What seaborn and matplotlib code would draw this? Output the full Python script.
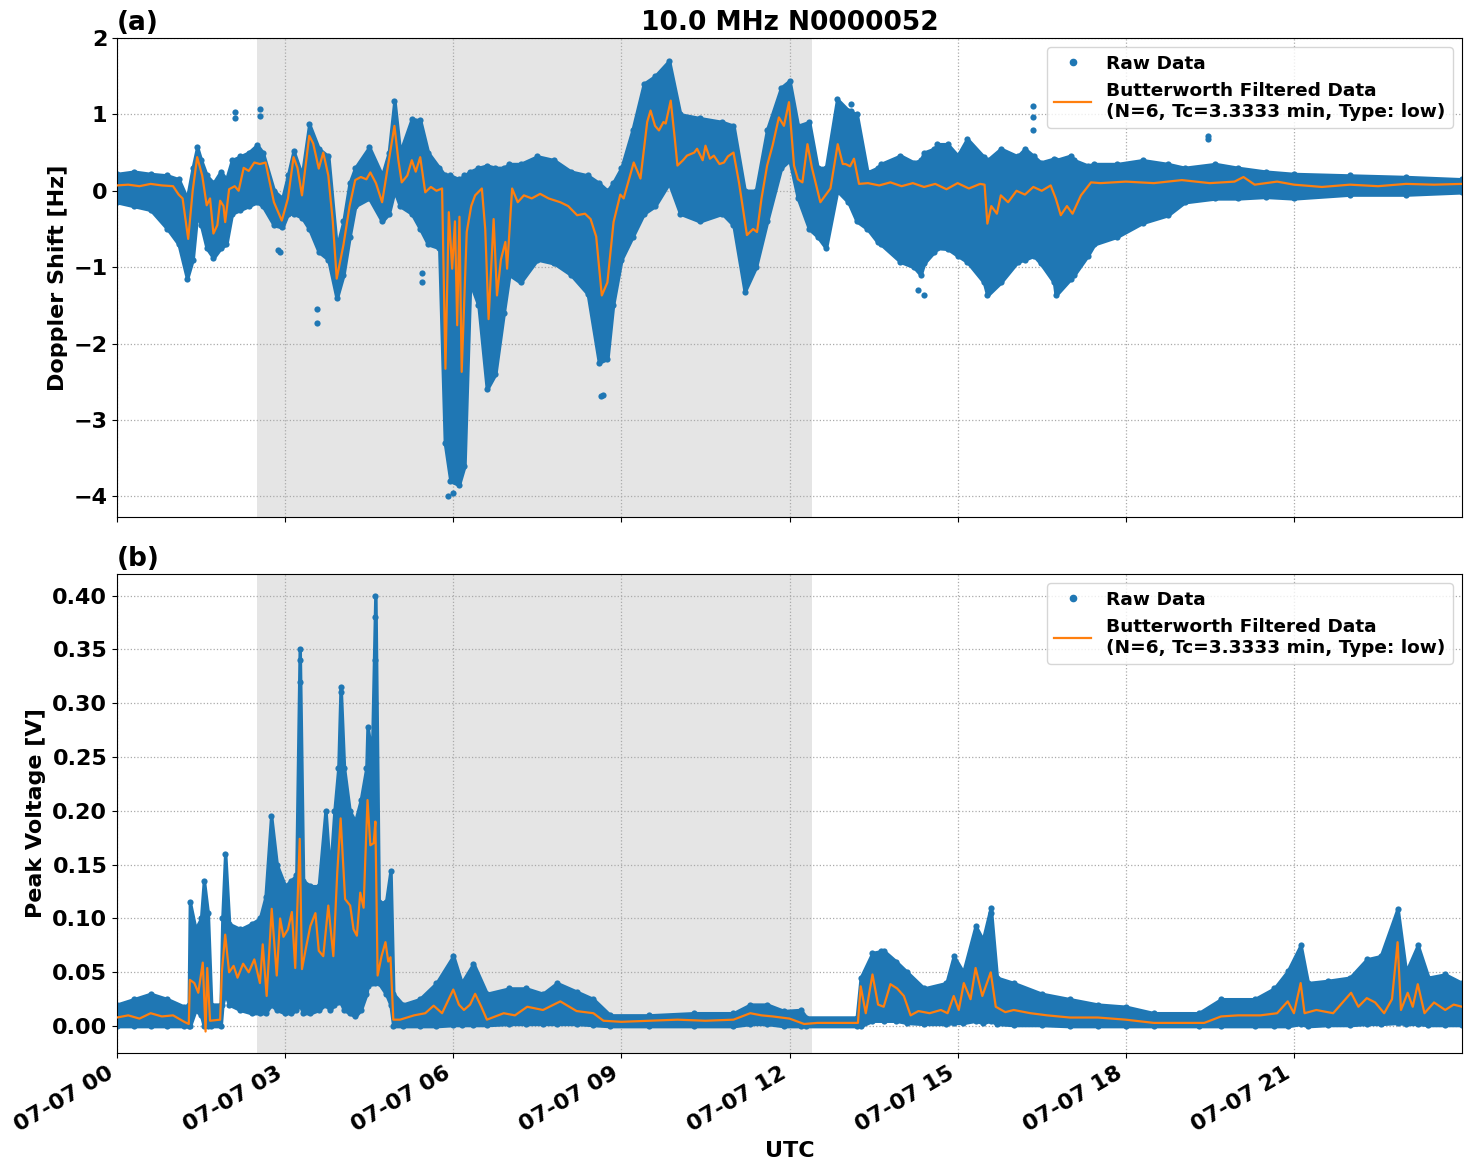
import numpy as np
import pandas as pd
import seaborn as sns
import matplotlib.pyplot as plt
import matplotlib.dates as mdates
from matplotlib.lines import Line2D

plt.rcParams['font.family'] = ['DejaVu Sans']
plt.rcParams['font.weight'] = 'bold'
plt.rcParams['axes.labelweight'] = 'bold'
plt.rcParams['axes.titleweight'] = 'bold'
plt.rcParams['font.size'] = 16

# ---- (a) Doppler shift: raw-data envelope (hours UTC, Hz) ----
dop_env_h = [0.0, 0.3, 0.6, 0.9, 1.1, 1.25, 1.35, 1.43, 1.5, 1.6, 1.72, 1.85, 1.95, 2.05, 2.2, 2.35,
             2.5, 2.6, 2.8, 2.95, 3.05, 3.15, 3.3, 3.43, 3.6, 3.77, 3.92, 4.04, 4.15, 4.25, 4.5,
             4.73, 4.85, 4.95, 5.05, 5.26, 5.41, 5.55, 5.75, 5.85, 5.95, 6.1, 6.2, 6.3, 6.45,
             6.6, 6.75, 6.9, 7.0, 7.2, 7.5, 7.8, 8.1, 8.4, 8.6, 8.75, 8.85, 9.0, 9.2, 9.4, 9.6,
             9.85, 10.05, 10.4, 10.8, 11.0, 11.2, 11.4, 11.6, 11.85, 12.0, 12.15, 12.35, 12.5,
             12.65, 12.85, 13.05, 13.2, 13.39, 13.57, 13.63, 13.98, 14.22, 14.34, 14.4, 14.58,
             14.64, 14.82, 15.0, 15.17, 15.47, 15.53, 15.77, 16.07, 16.2, 16.36, 16.48, 16.72,
             16.75, 17.02, 17.08, 17.32, 17.44, 17.85, 18.3, 18.75, 19.05, 19.6, 20.0, 20.5,
             21.0, 22.0, 23.0, 24.0]
dop_env_hi = [0.22, 0.25, 0.22, 0.2, 0.15, -0.1, 0.3, 0.57, 0.4, 0.2, 0.1, 0.25, 0.15, 0.4, 0.45, 0.5,
              0.6, 0.5, 0.0, -0.1, 0.2, 0.52, 0.2, 0.87, 0.55, 0.45, -0.75, -0.4, 0.1, 0.3, 0.57,
              0.2, 0.5, 1.18, 0.5, 0.94, 0.92, 0.5, 0.3, 0.2, 0.2, 0.15, 0.2, 0.25, 0.3,
              0.33, 0.3, 0.3, 0.35, 0.35, 0.45, 0.4, 0.25, 0.2, 0.1, 0.0, 0.1, 0.3, 0.8, 1.4, 1.5,
              1.7, 1.0, 0.95, 0.9, 0.85, 0.0, 0.0, 0.8, 1.35, 1.44, 0.85, 0.9, 0.3,
              0.3, 1.2, 1.05, 1.0, 0.24, 0.3, 0.35, 0.46, 0.37, 0.4, 0.5, 0.55,
              0.61, 0.61, 0.46, 0.68, 0.44, 0.4, 0.55, 0.45, 0.55, 0.45, 0.37, 0.42,
              0.4, 0.46, 0.4, 0.33, 0.35, 0.35, 0.4, 0.35, 0.3, 0.35, 0.3, 0.25,
              0.22, 0.2, 0.18, 0.15]
dop_env_lo = [-0.15, -0.2, -0.25, -0.5, -0.7, -1.15, -0.9, -0.3, -0.45, -0.75, -0.88, -0.75, -0.7, -0.3, -0.25, -0.2,
              -0.15, -0.2, -0.45, -0.48, -0.3, -0.3, -0.35, -0.5, -0.8, -0.9, -1.41, -1.1, -0.6, -0.2, -0.1,
              -0.4, -0.3, 0.0, -0.2, -0.3, -0.5, -0.7, -0.75, -3.3, -3.8, -3.85, -3.6, -1.2, -1.5,
              -2.6, -2.4, -1.6, -1.1, -1.2, -0.9, -0.95, -1.1, -1.35, -2.25, -2.2, -1.5, -0.9, -0.6, -0.3, -0.2,
              0.1, -0.3, -0.4, -0.3, -0.45, -1.32, -1.0, -0.4, 0.3, 0.4, -0.1, -0.5, -0.6,
              -0.75, 0.0, -0.15, -0.4, -0.5, -0.67, -0.7, -0.93, -1.0, -1.1, -0.95, -0.8,
              -0.75, -0.76, -0.85, -0.93, -1.2, -1.37, -1.2, -0.93, -0.9, -0.85, -0.95, -1.2,
              -1.37, -1.15, -1.1, -0.85, -0.7, -0.6, -0.42, -0.32, -0.15, -0.1, -0.1, -0.08,
              -0.1, -0.05, -0.05, -0.02]
dop_out_h = [2.1, 2.1, 2.55, 2.55, 2.88, 2.9, 3.57, 3.57, 5.45, 5.45, 5.9, 6.0, 8.64, 8.68,
             13.09, 13.09, 14.3, 14.4, 16.35, 16.35, 16.35, 19.46, 19.46]
dop_out_v = [1.03, 0.95, 1.07, 0.98, -0.78, -0.8, -1.73, -1.55, -1.08, -1.2, -4.0, -3.95, -2.69, -2.67,
             1.13, 1.05, -1.3, -1.37, 1.11, 0.96, 0.79, 0.72, 0.68]

# ---- (a) Doppler shift: Butterworth filtered ----
dop_filt_h = [0.0, 0.2, 0.4, 0.6, 0.8, 1.0, 1.1, 1.17, 1.27, 1.35, 1.43, 1.52, 1.6, 1.66, 1.72, 1.79,
              1.84, 1.9, 1.93, 2.0, 2.1, 2.17, 2.26, 2.35, 2.45, 2.55, 2.65, 2.8, 2.94, 3.05, 3.15,
              3.22, 3.3, 3.43, 3.5, 3.6, 3.68, 3.77, 3.85, 3.92, 4.04, 4.15, 4.25, 4.35, 4.45, 4.52,
              4.62, 4.73, 4.85, 4.95, 5.02, 5.08, 5.18, 5.26, 5.33, 5.41, 5.5, 5.6, 5.7, 5.8, 5.86,
              5.92, 5.98, 6.03, 6.07, 6.11, 6.15, 6.24, 6.32, 6.39, 6.51, 6.57, 6.63, 6.72, 6.78,
              6.85, 6.93, 6.96, 7.05, 7.15, 7.26, 7.4, 7.55, 7.7, 7.91, 8.05, 8.21, 8.35, 8.45,
              8.55, 8.65, 8.75, 8.86, 8.98, 9.04, 9.22, 9.34, 9.46, 9.52, 9.6, 9.67, 9.75, 9.79,
              9.88, 9.95, 10.0, 10.1, 10.17, 10.3, 10.35, 10.45, 10.5, 10.58, 10.65, 10.75, 10.83,
              10.9, 11.0, 11.1, 11.24, 11.35, 11.42, 11.5, 11.6, 11.7, 11.81, 11.9, 11.99, 12.08,
              12.15, 12.23, 12.32, 12.4, 12.55, 12.65, 12.73, 12.86, 12.95, 13.0, 13.08, 13.15,
              13.24, 13.4, 13.6, 13.8, 14.0, 14.2, 14.4, 14.6, 14.8, 15.0, 15.2, 15.4, 15.48,
              15.53, 15.6, 15.7, 15.77, 15.9, 16.05, 16.2, 16.35, 16.5, 16.66, 16.75, 16.84,
              16.95, 17.05, 17.2, 17.38, 17.55, 18.0, 18.5, 19.0, 19.5, 19.94, 20.1, 20.3, 20.7,
              21.0, 21.5, 22.0, 22.5, 23.0, 23.5, 24.0]
dop_filt_v = [0.07, 0.08, 0.06, 0.09, 0.07, 0.06, -0.05, -0.1, -0.63, 0.0, 0.44, 0.2, -0.19, -0.1, -0.56, -0.45,
              -0.13, -0.2, -0.41, 0.02, 0.06, 0.0, 0.3, 0.26, 0.37, 0.35, 0.37, -0.15, -0.39, -0.1, 0.44,
              0.3, -0.06, 0.72, 0.62, 0.29, 0.5, 0.2, -0.4, -1.15, -0.71, -0.2, 0.14, 0.18, 0.15, 0.24,
              0.1, -0.15, 0.4, 0.85, 0.4, 0.11, 0.2, 0.4, 0.25, 0.44, -0.02, 0.05, 0.0, 0.03, -2.33,
              -0.28, -1.02, -0.4, -1.76, -0.34, -2.37, -0.54, -0.2, -0.06, 0.03, -0.5, -1.68, -0.37, -1.37,
              -0.9, -0.67, -1.02, 0.03, -0.15, -0.06, -0.1, -0.04, -0.1, -0.15, -0.2, -0.32, -0.3, -0.37,
              -0.6, -1.37, -1.2, -0.41, -0.05, -0.1, 0.37, 0.16, 0.9, 1.05, 0.85, 0.79, 0.9, 0.88,
              1.18, 0.7, 0.33, 0.4, 0.46, 0.5, 0.55, 0.4, 0.59, 0.42, 0.46, 0.35, 0.37,
              0.45, 0.5, 0.1, -0.58, -0.5, -0.54, -0.1, 0.33, 0.6, 0.96, 0.85, 1.16, 0.33,
              0.15, 0.11, 0.61, 0.3, -0.15, -0.05, 0.03, 0.61, 0.35, 0.35, 0.32, 0.42,
              0.09, 0.1, 0.07, 0.11, 0.06, 0.1, 0.05, 0.09, 0.02, 0.1, 0.03, 0.09, 0.08,
              -0.43, -0.2, -0.3, -0.06, -0.15, 0.0, -0.05, 0.05, 0.0, 0.07, -0.1, -0.32,
              -0.2, -0.3, -0.06, 0.11, 0.1, 0.12, 0.1, 0.14, 0.1, 0.12, 0.18, 0.08, 0.12,
              0.08, 0.05, 0.08, 0.06, 0.09, 0.08, 0.09]

# ---- (b) Peak voltage: raw-data envelope (hours UTC, V) ----
pv_env_h = [0.0, 0.3, 0.6, 0.9, 1.2, 1.28, 1.3, 1.4, 1.5, 1.55, 1.62, 1.68, 1.85, 1.88, 1.93, 2.0,
            2.2, 2.4, 2.55, 2.65, 2.75, 2.85, 3.0, 3.1, 3.2, 3.26, 3.32, 3.45, 3.6, 3.72, 3.8,
            3.88, 3.95, 3.99, 4.05, 4.15, 4.25, 4.35, 4.45, 4.47, 4.55, 4.61, 4.67, 4.8, 4.88,
            4.93, 5.1, 5.4, 5.7,
            6.0, 6.15, 6.36, 6.6, 7.0, 7.3, 7.6, 7.85, 8.2, 8.5, 8.8, 9.5, 10.3, 11.0, 11.3,
            11.6, 11.9, 12.2, 12.3, 13.2, 13.27, 13.48, 13.68, 13.9, 14.1, 14.4, 14.8, 14.93,
            15.1, 15.32, 15.45, 15.59, 15.7, 16.0, 16.5, 17.0, 17.5, 18.0, 18.5, 19.3, 19.7,
            20.3, 20.65, 20.89, 21.12, 21.25, 21.6, 22.0, 22.3, 22.55, 22.85, 23.0, 23.21,
            23.4, 23.7, 24.0]
pv_env_hi = [0.02, 0.025, 0.03, 0.025, 0.018, 0.02, 0.115, 0.09, 0.1, 0.135, 0.105, 0.02, 0.02, 0.1, 0.16, 0.095,
             0.09, 0.095, 0.1, 0.12, 0.195, 0.15, 0.13, 0.135, 0.14, 0.35, 0.135, 0.13, 0.13, 0.2, 0.14,
             0.2, 0.24, 0.315, 0.24, 0.2, 0.19, 0.21, 0.24, 0.278, 0.25, 0.4, 0.115, 0.115, 0.144,
             0.03, 0.02, 0.025, 0.04,
             0.065, 0.04, 0.058, 0.03, 0.035, 0.035, 0.03, 0.04, 0.032, 0.025, 0.01, 0.01, 0.012, 0.012, 0.02,
             0.02, 0.014, 0.015, 0.008, 0.008, 0.045, 0.068, 0.07, 0.06, 0.05, 0.035, 0.04, 0.065,
             0.05, 0.093, 0.08, 0.11, 0.045, 0.04, 0.03, 0.025, 0.02, 0.018, 0.012, 0.012, 0.025,
             0.025, 0.035, 0.051, 0.075, 0.04, 0.042, 0.045, 0.062, 0.065, 0.109, 0.05, 0.075,
             0.045, 0.048, 0.04]
pv_env_lo = [0.0, 0.0, 0.0, 0.0, 0.0, 0.0, 0.0, 0.015, 0.01, 0.0, 0.0, 0.0, 0.0, 0.02, 0.03, 0.02,
             0.015, 0.012, 0.012, 0.012, 0.02, 0.015, 0.012, 0.012, 0.015, 0.02, 0.012, 0.012, 0.015, 0.02, 0.015,
             0.02, 0.022, 0.022, 0.015, 0.012, 0.009, 0.015, 0.03, 0.037, 0.04, 0.04, 0.04, 0.03, 0.02,
             0.0, 0.0, 0.0, 0.0,
             0.001, 0.001, 0.001, 0.001, 0.002, 0.002, 0.002, 0.002, 0.002, 0.001, 0.0, 0.0, 0.0, 0.0, 0.002,
             0.002, 0.0, 0.0, 0.0, 0.0, 0.0, 0.005, 0.005, 0.005, 0.003, 0.002, 0.002, 0.003,
             0.003, 0.005, 0.003, 0.005, 0.002, 0.001, 0.001, 0.0, 0.0, 0.0, 0.0, 0.0, 0.0,
             0.0, 0.0, 0.0, 0.002, 0.0, 0.001, 0.001, 0.002, 0.002, 0.003, 0.002, 0.002,
             0.001, 0.001, 0.001]
pv_out_h = [3.26, 3.26, 4.61, 4.61, 4.61, 3.99, 13.63, 13.63, 15.59]
pv_out_v = [0.34, 0.32, 0.38, 0.34, 0.3, 0.31, 0.07, 0.065, 0.105]

# ---- (b) Peak voltage: Butterworth filtered ----
pv_filt_h = [0.0, 0.2, 0.4, 0.6, 0.8, 1.0, 1.2, 1.28, 1.3, 1.38, 1.45, 1.53, 1.58, 1.61, 1.66, 1.84,
             1.87, 1.93, 2.0, 2.08, 2.15, 2.25, 2.35, 2.45, 2.55, 2.6, 2.67, 2.76, 2.85, 2.91, 2.97,
             3.05, 3.12, 3.18, 3.26, 3.3, 3.38, 3.45, 3.54, 3.6, 3.68, 3.77, 3.86, 3.93, 3.99, 4.07,
             4.16, 4.22, 4.28, 4.34, 4.4, 4.43, 4.47, 4.52, 4.58, 4.61, 4.65, 4.72, 4.79, 4.84, 4.88,
             4.93, 5.05, 5.3, 5.5, 5.65, 5.8, 6.0, 6.1, 6.19, 6.3, 6.39, 6.5, 6.6, 6.9, 7.1, 7.32,
             7.6, 7.91, 8.2, 8.5, 8.68, 9.0, 9.5, 10.0, 10.5, 11.0, 11.3, 11.5, 11.7, 12.0, 12.26,
             12.5, 13.0, 13.22, 13.27, 13.36, 13.48, 13.58, 13.68, 13.8, 13.92, 14.04, 14.16, 14.3,
             14.5, 14.7, 14.82, 14.93, 15.02, 15.11, 15.23, 15.32, 15.44, 15.59, 15.68, 15.85, 16.0,
             16.3, 16.6, 17.0, 17.5, 18.0, 18.5, 19.0, 19.4, 19.7, 20.0, 20.4, 20.7, 20.89, 21.0,
             21.12, 21.19, 21.4, 21.7, 22.02, 22.15, 22.3, 22.45, 22.61, 22.75, 22.85, 22.91, 23.03,
             23.12, 23.21, 23.33, 23.5, 23.7, 23.85, 24.0]
pv_filt_v = [0.008, 0.01, 0.007, 0.012, 0.009, 0.01, 0.004, 0.002, 0.043, 0.04, 0.031, 0.059, -0.005, 0.054, 0.005, 0.006,
             0.05, 0.085, 0.05, 0.056, 0.045, 0.058, 0.05, 0.062, 0.04, 0.076, 0.028, 0.109, 0.047, 0.1, 0.083,
             0.09, 0.106, 0.054, 0.174, 0.053, 0.075, 0.093, 0.105, 0.07, 0.065, 0.112, 0.065, 0.143, 0.193, 0.118,
             0.112, 0.09, 0.084, 0.124, 0.11, 0.155, 0.21, 0.168, 0.17, 0.19, 0.047, 0.065, 0.078, 0.06, 0.064,
             0.006, 0.006, 0.01, 0.012, 0.019, 0.012, 0.034, 0.02, 0.015, 0.02, 0.03, 0.018, 0.006, 0.012, 0.01, 0.018,
             0.015, 0.023, 0.014, 0.012, 0.005, 0.004, 0.005, 0.006, 0.005, 0.006, 0.012, 0.01, 0.009, 0.007, 0.002,
             0.003, 0.003, 0.003, 0.037, 0.012, 0.048, 0.02, 0.018, 0.039, 0.035, 0.028, 0.01, 0.014,
             0.012, 0.015, 0.012, 0.028, 0.015, 0.04, 0.025, 0.054, 0.028, 0.05, 0.018, 0.013, 0.015,
             0.012, 0.01, 0.008, 0.008, 0.006, 0.003, 0.003, 0.003, 0.009, 0.01, 0.01, 0.012, 0.023, 0.012,
             0.04, 0.012, 0.015, 0.012, 0.031, 0.018, 0.026, 0.022, 0.012, 0.025, 0.078, 0.015, 0.031,
             0.018, 0.039, 0.012, 0.022, 0.015, 0.02, 0.018]

BASE = pd.Timestamp('2024-07-07')
SHADE = (2.5, 12.4)
FILT_LABEL = 'Butterworth Filtered Data\n(N=6, Tc=3.3333 min, Type: low)'


def to_time(hours):
    return BASE + pd.to_timedelta(np.asarray(hours, dtype=float), unit='h')


def draw_panel(ax, env_h, env_hi, env_lo, out_h, out_v, filt_h, filt_v):
    t_env = to_time(env_h)
    ax.axvspan(to_time([SHADE[0]])[0], to_time([SHADE[1]])[0], color='gray', alpha=0.2, lw=0, zorder=0)
    ax.fill_between(t_env, env_lo, env_hi, color='C0', lw=2.5, edgecolor='C0', zorder=2)
    raw = pd.DataFrame({'t': np.concatenate([t_env, t_env, to_time(out_h)]),
                        'v': np.concatenate([env_hi, env_lo, out_v])})
    sns.scatterplot(data=raw, x='t', y='v', ax=ax, s=20, color='C0', linewidth=0, zorder=2, legend=False)
    filt = pd.DataFrame({'t': to_time(filt_h), 'v': filt_v})
    sns.lineplot(data=filt, x='t', y='v', ax=ax, color='C1', linewidth=1.6, zorder=3, legend=False,
                 estimator=None, sort=False)
    ax.grid(True, linestyle=':', color='#aaaaaa', linewidth=0.9)
    ax.set_axisbelow(True)
    handles = [Line2D([], [], marker='o', linestyle='none', color='C0', markersize=4.5),
               Line2D([], [], color='C1', linewidth=1.6)]
    ax.legend(handles, ['Raw Data', FILT_LABEL], loc='upper right', prop={'weight': 'bold', 'size': 13.3})


fig, (ax1, ax2) = plt.subplots(2, 1, figsize=(14.72, 11.72), dpi=100, sharex=True)

draw_panel(ax1, dop_env_h, dop_env_hi, dop_env_lo, dop_out_h, dop_out_v, dop_filt_h, dop_filt_v)
draw_panel(ax2, pv_env_h, pv_env_hi, pv_env_lo, pv_out_h, pv_out_v, pv_filt_h, pv_filt_v)

ax1.set_title('10.0 MHz N0000052', fontsize=19)
ax1.set_title('(a)', loc='left', fontsize=19)
ax2.set_title('(b)', loc='left', fontsize=19)
ax1.set_ylabel('Doppler Shift [Hz]')
ax2.set_ylabel('Peak Voltage [V]')
ax1.set_xlabel('')
ax2.set_xlabel('UTC')

ax1.set_ylim(-4.27, 2.0)
ax1.set_yticks([-4, -3, -2, -1, 0, 1, 2])
ax2.set_ylim(-0.025, 0.42)
ax2.set_yticks(np.arange(0, 0.41, 0.05))
ax2.yaxis.set_major_formatter(plt.FormatStrFormatter('%.2f'))

ax2.set_xlim(to_time([0])[0], to_time([23.999])[0])
ax2.xaxis.set_major_locator(mdates.HourLocator(byhour=range(0, 24, 3)))
ax2.xaxis.set_major_formatter(mdates.DateFormatter('%m-%d %H'))
fig.autofmt_xdate(rotation=30, ha='right')
fig.subplots_adjust(left=0.0795, right=0.9932, top=0.9676, bottom=0.1015, hspace=0.119)

fig.savefig('out.png', dpi=100)
